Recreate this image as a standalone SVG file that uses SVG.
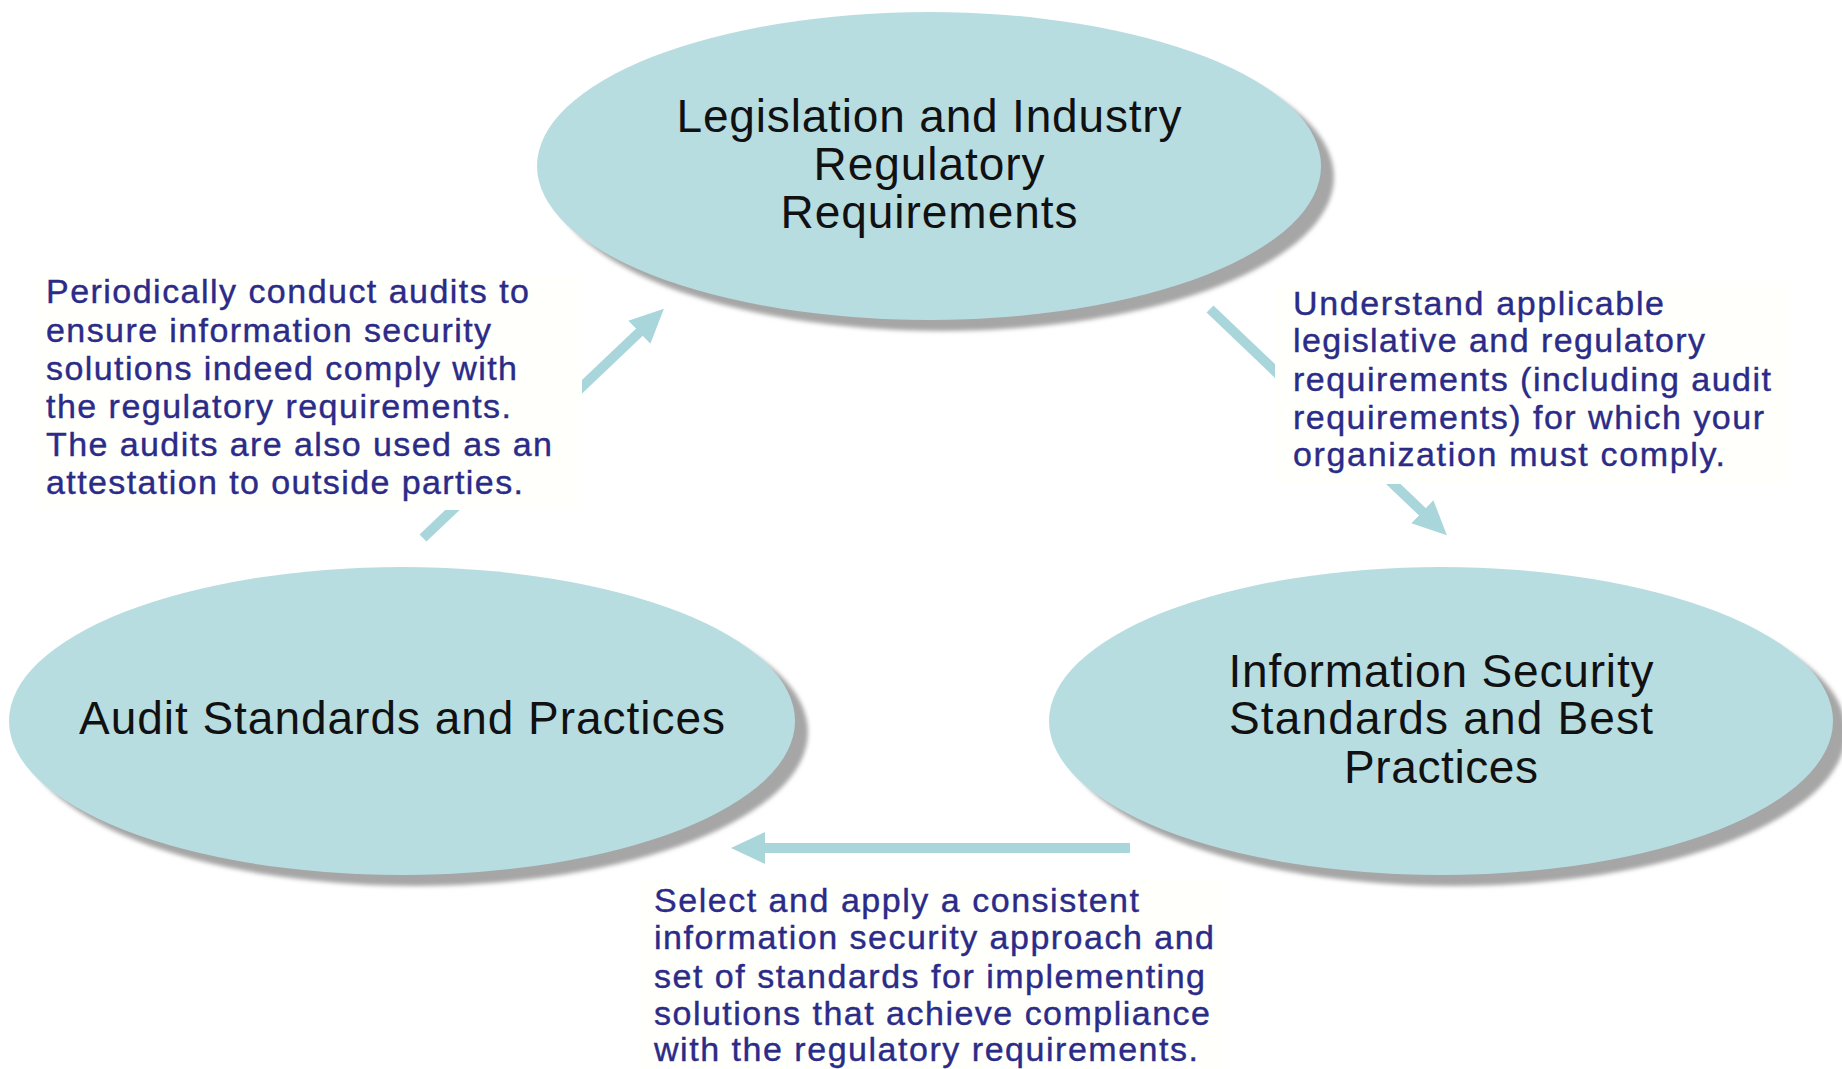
<svg xmlns="http://www.w3.org/2000/svg" width="1842" height="1069" viewBox="0 0 1842 1069">
<style>
.bg{fill:#ffffff}
.shadow{fill:#a6a6a6;filter:url(#blur)}
.node{fill:#b8dde1}
.nt{font-family:"Liberation Sans",Arial,sans-serif;font-size:46px;fill:#111111;text-anchor:middle}
.at{font-family:"Liberation Sans",Arial,sans-serif;font-size:34px;fill:#2b2b88;stroke:#2b2b88;stroke-width:0.4}
.box{fill:#fffffc}
.arrow{stroke:#a9d6da;stroke-width:10;fill:none;marker-end:url(#head)}
</style>
<defs>
<filter id="blur" x="-10%" y="-10%" width="120%" height="120%"><feGaussianBlur stdDeviation="2"/></filter>
<marker id="head" markerUnits="userSpaceOnUse" markerWidth="34" markerHeight="32" refX="12" refY="16" orient="auto" viewBox="0 0 34 32">
<path d="M0,0 L34,16 L0,32 Z" fill="#a9d6da"/>
</marker>
</defs>
<rect class="bg" x="0" y="0" width="1842" height="1069"/>

<g id="connectors">
<line class="arrow" x1="423" y1="538" x2="648" y2="324"/>
<line class="arrow" x1="1210" y1="309" x2="1431" y2="520"/>
<line class="arrow" x1="1130" y1="848" x2="753" y2="848"/>
</g>

<g id="node-legislation">
<ellipse class="shadow" cx="942" cy="177" rx="392" ry="154"/>
<ellipse class="node" cx="929" cy="166" rx="392" ry="154"/>
<text class="nt" x="929" y="132" textLength="505" lengthAdjust="spacing">Legislation and Industry</text>
<text class="nt" x="929" y="180" textLength="231" lengthAdjust="spacing">Regulatory</text>
<text class="nt" x="929" y="228" textLength="297" lengthAdjust="spacing">Requirements</text>
</g>

<g id="node-audit">
<ellipse class="shadow" cx="415" cy="732" rx="393" ry="154"/>
<ellipse class="node" cx="402" cy="721" rx="393" ry="154"/>
<text class="nt" x="402" y="734" textLength="646" lengthAdjust="spacing">Audit Standards and Practices</text>
</g>

<g id="node-infosec">
<ellipse class="shadow" cx="1454" cy="732" rx="392" ry="154"/>
<ellipse class="node" cx="1441" cy="721" rx="392" ry="154"/>
<text class="nt" x="1441" y="687" textLength="425" lengthAdjust="spacing">Information Security</text>
<text class="nt" x="1441" y="734" textLength="424" lengthAdjust="spacing">Standards and Best</text>
<text class="nt" x="1441" y="783" textLength="194" lengthAdjust="spacing">Practices</text>
</g>

<g id="label-audit">
<rect class="box" x="35" y="275" width="547" height="235"/>
<text class="at" x="46" y="303" textLength="483" lengthAdjust="spacing">Periodically conduct audits to</text>
<text class="at" x="46" y="342" textLength="445" lengthAdjust="spacing">ensure information security</text>
<text class="at" x="46" y="380" textLength="471" lengthAdjust="spacing">solutions indeed comply with</text>
<text class="at" x="46" y="418" textLength="465" lengthAdjust="spacing">the regulatory requirements.</text>
<text class="at" x="46" y="456" textLength="506" lengthAdjust="spacing">The audits are also used as an</text>
<text class="at" x="46" y="494" textLength="477" lengthAdjust="spacing">attestation to outside parties.</text>
</g>

<g id="label-understand">
<rect class="box" x="1275" y="282" width="515" height="202"/>
<text class="at" x="1293" y="315" textLength="371" lengthAdjust="spacing">Understand applicable</text>
<text class="at" x="1293" y="352" textLength="412" lengthAdjust="spacing">legislative and regulatory</text>
<text class="at" x="1293" y="391" textLength="478" lengthAdjust="spacing">requirements (including audit</text>
<text class="at" x="1293" y="429" textLength="471" lengthAdjust="spacing">requirements) for which your</text>
<text class="at" x="1293" y="466" textLength="432" lengthAdjust="spacing">organization must comply.</text>
</g>

<g id="label-select">
<rect class="box" x="640" y="880" width="585" height="189"/>
<text class="at" x="654" y="912" textLength="485" lengthAdjust="spacing">Select and apply a consistent</text>
<text class="at" x="654" y="949" textLength="560" lengthAdjust="spacing">information security approach and</text>
<text class="at" x="654" y="988" textLength="551" lengthAdjust="spacing">set of standards for implementing</text>
<text class="at" x="654" y="1025" textLength="556" lengthAdjust="spacing">solutions that achieve compliance</text>
<text class="at" x="654" y="1061" textLength="544" lengthAdjust="spacing">with the regulatory requirements.</text>
</g>
</svg>
